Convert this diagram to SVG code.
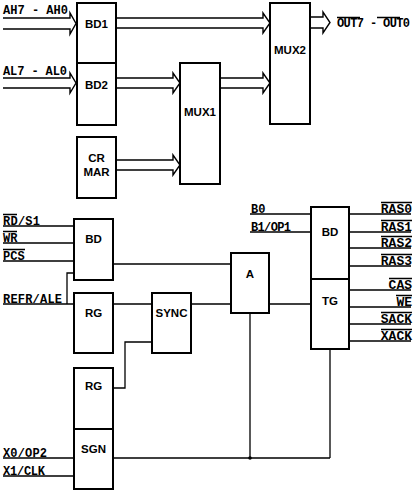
<svg xmlns="http://www.w3.org/2000/svg" width="413" height="492" viewBox="0 0 413 492">
<style>
.box{fill:#fff;stroke:#000;stroke-width:2}
.w{fill:none;stroke:#000;stroke-width:1.3}
.ha{fill:none;stroke:#000;stroke-width:1.4;stroke-linejoin:miter}
.bl{font-family:"Liberation Sans",Arial,sans-serif;font-weight:bold;font-size:11.5px;text-anchor:middle;fill:#000}
.lb{font-family:"Liberation Mono","Courier New",monospace;font-weight:bold;font-size:12px;fill:#000}
.rb{font-family:"Liberation Mono","Courier New",monospace;font-weight:bold;font-size:13px;fill:#000;text-anchor:end}
.ov{stroke:#000;stroke-width:1.3}
</style>
<rect width="413" height="492" fill="#fff"/>
<g id="connectors">
  <!-- hollow bus arrows -->
  <path class="ha" d="M3 18H70V13L76 23.5L70 34V29H3"/>
  <path class="ha" d="M3 78H70V73L76 83L70 93V88H3"/>
  <path class="ha" d="M116 18H263V13L270 23L263 33V28H116"/>
  <path class="ha" d="M116 78H173V73L180 83L173 93V88H116"/>
  <path class="ha" d="M116 160H173V155L180 165L173 175V170H116"/>
  <path class="ha" d="M220 78H263V73L270 83L263 93V88H220"/>
  <path class="ha" d="M310 17H323V12L330 22.5L323 33V28H310"/>
  <!-- control lines -->
  <path class="w" d="M3 226H74M3 243H74M3 261H74M3 304H74"/>
  <path class="w" d="M67 304V273H74"/>
  <path class="w" d="M113 264H231"/>
  <path class="w" d="M113 304H152M191 304H231M269 304H311"/>
  <path class="w" d="M113 388H125V342H152"/>
  <path class="w" d="M250 313V458M330 349V458M113 458H330"/>
  <circle cx="250" cy="458" r="1.8" fill="#000"/>
  <path class="w" d="M3 458H74M3 476H74"/>
  <path class="w" d="M250 214H311M250 232H311"/>
  <path class="w" d="M349 214H411M349 232H411M349 248H411M349 266H411M349 290H411M349 307H411M349 324H411M349 341H411"/>
</g>
<g id="BD1"><rect class="box" x="77" y="3" width="39" height="60"/><text class="bl" x="96.5" y="28">BD1</text></g>
<g id="BD2"><rect class="box" x="77" y="63" width="39" height="62"/><text class="bl" x="96.5" y="89">BD2</text></g>
<g id="CRMAR"><rect class="box" x="77" y="137" width="39" height="61"/><text class="bl" x="96.5" y="162">CR</text><text class="bl" x="96.5" y="176">MAR</text></g>
<g id="MUX1"><rect class="box" x="180" y="63" width="40" height="121"/><text class="bl" x="200" y="116" font-size="10.5">MUX1</text></g>
<g id="MUX2"><rect class="box" x="270" y="3" width="40" height="121"/><text class="bl" x="290" y="54" font-size="10.5">MUX2</text></g>
<g id="BDc"><rect class="box" x="74" y="219" width="39" height="61"/><text class="bl" x="93.5" y="243">BD</text></g>
<g id="RG1"><rect class="box" x="74" y="293" width="39" height="60"/><text class="bl" x="93.5" y="317">RG</text></g>
<g id="SYNC"><rect class="box" x="152" y="293" width="39" height="60"/><text class="bl" x="171.5" y="317">SYNC</text></g>
<g id="RG2"><rect class="box" x="74" y="368" width="39" height="61"/><text class="bl" x="93.5" y="390">RG</text></g>
<g id="SGN"><rect class="box" x="74" y="429" width="39" height="60"/><text class="bl" x="93.5" y="453">SGN</text></g>
<g id="A"><rect class="box" x="231" y="253" width="38" height="60"/><text class="bl" x="250" y="278">A</text></g>
<g id="BDr"><rect class="box" x="311" y="207" width="38" height="72"/><text class="bl" x="330" y="236">BD</text></g>
<g id="TG"><rect class="box" x="311" y="279" width="38" height="70"/><text class="bl" x="330" y="305">TG</text></g>
<g id="labels">
  <text class="lb" x="3" y="14" textLength="65" lengthAdjust="spacing">AH7 - AH0</text>
  <text class="lb" x="3" y="75" textLength="64" lengthAdjust="spacing">AL7 - AL0</text>
  <text class="lb" x="337" y="27" font-size="11" textLength="73" lengthAdjust="spacing">OUT7 - OUT0</text>
  <path class="ov" d="M337 17.5H360M377 17.5H400"/>
  <text class="lb" x="3" y="224.5" textLength="37" lengthAdjust="spacing">RD/S1</text>
  <text class="lb" x="3" y="241.5">WR</text>
  <text class="lb" x="3" y="259.5">PCS</text>
  <path class="ov" d="M3 214.5H17M3 231.5H17M3 249.5H25"/>
  <text class="lb" x="3" y="302.5" textLength="59" lengthAdjust="spacing">REFR/ALE</text>
  <text class="lb" x="3" y="456.5" textLength="44" lengthAdjust="spacing">X0/OP2</text>
  <text class="lb" x="3" y="474.5" textLength="42" lengthAdjust="spacing">X1/CLK</text>
  <text class="lb" x="251" y="212.5">B0</text>
  <text class="lb" x="251" y="230.5" textLength="40" lengthAdjust="spacing">B1/OP1</text>
  <text class="rb" x="412" y="212.5">RAS0</text>
  <text class="rb" x="412" y="230.5">RAS1</text>
  <text class="rb" x="412" y="246.5">RAS2</text>
  <text class="rb" x="412" y="264.5">RAS3</text>
  <text class="rb" x="412" y="288.5">CAS</text>
  <text class="rb" x="412" y="305.5">WE</text>
  <text class="rb" x="412" y="322.5">SACK</text>
  <text class="rb" x="412" y="339.5">XACK</text>
  <path class="ov" d="M381 202.5H412M381 220.5H412M381 236.5H412M381 254.5H412M389 278.5H412M396 295.5H412M381 312.5H412M381 329.5H412"/>
</g>
</svg>
